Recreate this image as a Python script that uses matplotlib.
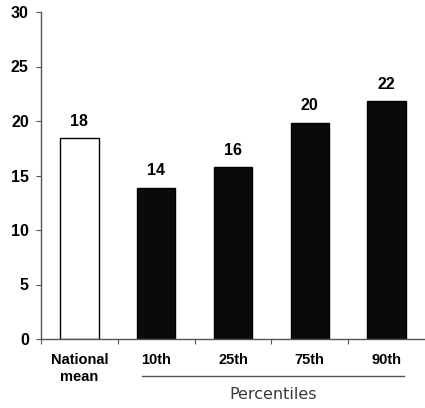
import numpy as np
import matplotlib
matplotlib.use('Agg')
import matplotlib.pyplot as plt
import matplotlib.transforms as mtransforms

# Chart data
categories = ['National\nmean', '10th', '25th', '75th', '90th']
values = [18.4, 13.85, 15.75, 19.8, 21.8]
value_labels = ['18', '14', '16', '20', '22']
fill_colors = ['white', '#0a0a0a', '#0a0a0a', '#0a0a0a', '#0a0a0a']
group_label = 'Percentiles'

plt.rcParams['font.family'] = ['Liberation Sans', 'DejaVu Sans']

fig = plt.figure(figsize=(4.25, 4.08), dpi=100)
ax = fig.add_axes([41 / 425, 1 - 339 / 408, 1 - 41 / 425, (339 - 12) / 408])

x = np.arange(len(categories))
ax.bar(x, values, width=0.5, color=fill_colors, edgecolor='black', linewidth=1.0)

for xi, v, lab in zip(x, values, value_labels):
    ax.text(xi, v + 0.9, lab, ha='center', va='bottom', fontsize=11.5, fontweight='bold')

ax.set_xlim(-0.5, len(categories) - 0.5)
ax.set_ylim(0, 30)
ax.set_yticks(np.arange(0, 31, 5))
ax.set_xticks(np.arange(-0.5, len(categories) - 0.5, 1.0))
ax.set_xticklabels([])
ax.tick_params(axis='both', direction='out', length=3.8, color='#555555')
ax.tick_params(axis='y', labelsize=11.5, pad=5)
for t in ax.get_yticklabels():
    t.set_fontweight('bold')

for side in ['top', 'right']:
    ax.spines[side].set_visible(False)
for side in ['left', 'bottom']:
    ax.spines[side].set_color('#555555')
    ax.spines[side].set_linewidth(1.0)

# category labels
trans = mtransforms.blended_transform_factory(ax.transData, ax.transAxes)
for xi, c in zip(x, categories):
    ax.text(xi, -0.043, c, transform=trans, ha='center', va='top',
            fontsize=10.5, fontweight='bold', linespacing=1.3)

# group line and label
ax.plot([0.81, 4.23], [-0.113, -0.113], transform=trans, color='#555555',
        linewidth=1.0, clip_on=False)
ax.text(2.52, -0.148, group_label, transform=trans, ha='center', va='top',
        fontsize=11.5, color='#3a3a3a', family=['DejaVu Sans'])

fig.savefig('out.png', dpi=100)
